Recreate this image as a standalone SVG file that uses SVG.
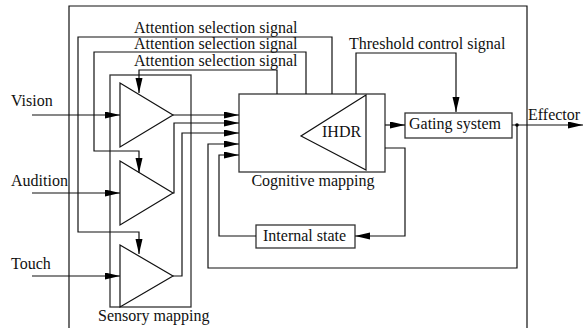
<svg xmlns="http://www.w3.org/2000/svg" width="583" height="328" viewBox="0 0 583 328">
<style>
.ln{fill:none;stroke:#111;stroke-width:1.2}
.bx{fill:#fff;stroke:#333;stroke-width:1.3}
.tri{fill:#fff;stroke:#111;stroke-width:1.2}
text{font-family:"Liberation Serif","Times New Roman",serif;font-size:16px;fill:#111}
</style>
<defs>
<marker id="ah" markerUnits="userSpaceOnUse" markerWidth="16" markerHeight="8" refX="15" refY="3.5" orient="auto">
<path d="M0,0 L15,3.5 L0,7 z" fill="#000"/>
</marker>
</defs>
<rect width="583" height="328" fill="#fff"/>
<g id="outer">
<path class="ln" d="M69,330 V6 H527 V330"/>
</g>
<g id="sensory-mapping">
<rect class="bx" x="110" y="75" width="81" height="232" fill="none" style="fill:none"/>
<text x="98" y="321">Sensory mapping</text>
</g>
<g id="amp-vision"><path class="tri" d="M120,83 L173,115 L120,147 Z"/></g>
<g id="amp-audition"><path class="tri" d="M120,161 L173,193 L120,225 Z"/></g>
<g id="amp-touch"><path class="tri" d="M120,245 L173,276 L120,307 Z"/></g>
<g id="cognitive-mapping">
<rect class="bx" x="239" y="94" width="146" height="78"/>
<path class="tri" d="M366,95 L301,136 L366,170 Z"/>
<text x="322" y="137">IHDR</text>
<text x="313" y="186" text-anchor="middle">Cognitive mapping</text>
</g>
<g id="gating-system">
<rect class="bx" x="405" y="113" width="107" height="25"/>
<text x="409" y="129">Gating system</text>
</g>
<g id="internal-state">
<rect class="bx" x="256" y="225" width="99" height="23"/>
<text x="263" y="241">Internal state</text>
</g>
<g id="connectors">
<path class="ln" d="M332,94 V37 H78 V232 H139 V254" marker-end="url(#ah)"/>
<path class="ln" d="M306,94 V52 H94 V151 H139 V173" marker-end="url(#ah)"/>
<path class="ln" d="M277,94 V70 H139 V93" marker-end="url(#ah)"/>
<path class="ln" d="M356,94 V53 H456 V112" marker-end="url(#ah)"/>
<path class="ln" d="M32,115 H120" marker-end="url(#ah)"/>
<path class="ln" d="M32,193 H120" marker-end="url(#ah)"/>
<path class="ln" d="M32,276 H120" marker-end="url(#ah)"/>
<path class="ln" d="M173,115 H239" marker-end="url(#ah)"/>
<path class="ln" d="M173,193 H174 V123 H239" marker-end="url(#ah)"/>
<path class="ln" d="M173,276 H182 V133 H239" marker-end="url(#ah)"/>
<path class="ln" d="M517,125 V268 H208 V144 H239" marker-end="url(#ah)"/>
<path class="ln" d="M385,148 H405 V236 H355" marker-end="url(#ah)"/>
<path class="ln" d="M256,236 H219 V155 H239" marker-end="url(#ah)"/>
<path class="ln" d="M385,125 H405" marker-end="url(#ah)"/>
<path class="ln" d="M512,125 H583" marker-end="url(#ah)"/>
<circle cx="517" cy="125" r="1.8" fill="#000"/>
</g>
<g id="labels">
<text x="134" y="33">Attention selection signal</text>
<text x="134" y="49">Attention selection signal</text>
<text x="134" y="66">Attention selection signal</text>
<text x="349" y="49">Threshold control signal</text>
<text x="11" y="106">Vision</text>
<text x="11" y="186">Audition</text>
<text x="11" y="269">Touch</text>
<text x="528" y="120">Effector</text>
</g>
</svg>
